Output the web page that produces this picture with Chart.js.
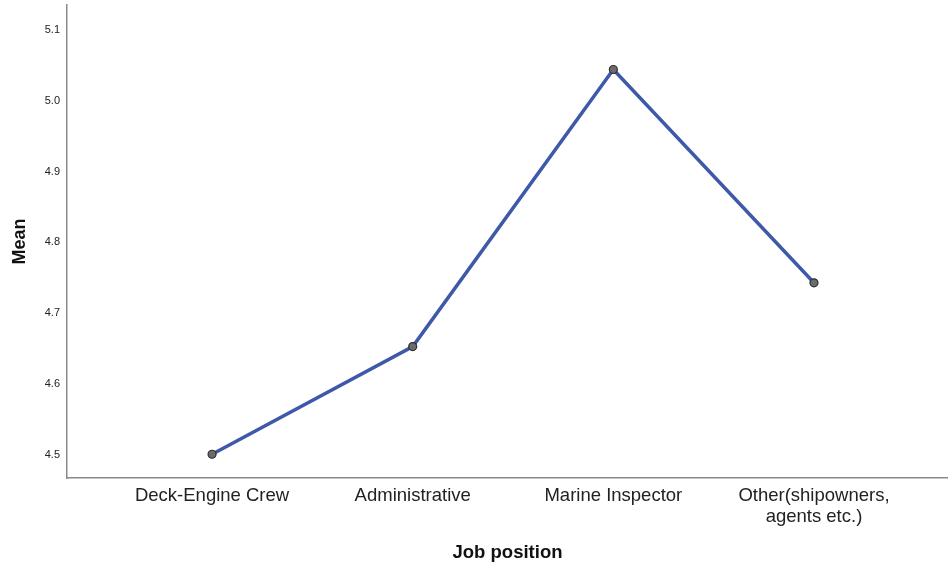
<!DOCTYPE html>
<html>
<head>
<meta charset="utf-8">
<style>
  html, body { margin: 0; padding: 0; background: #fff; }
  #wrap { width: 948px; height: 565px; }
</style>
</head>
<body>
<div id="wrap"><canvas id="meanChart"></canvas></div>

<script src="https://cdn.jsdelivr.net/npm/chart.js"></script>
<script>
  // categories and means
  const categories = ['Deck-Engine Crew', 'Administrative', 'Marine Inspector', ['Other(shipowners,', 'agents etc.)']];
  const positions = [1, 2, 3, 4];
  const means = [4.501, 4.653, 5.044, 4.743];
  const yTicks = [4.5, 4.6, 4.7, 4.8, 4.9, 5.0, 5.1];

  const points = positions.map(function (p, i) { return { x: p, y: means[i] }; });

  const ctx = document.getElementById('meanChart');
  const meanChart = new Chart(ctx, {
      type: 'line',
      data: {
          datasets: [{
              label: 'Mean',
              data: points,
              borderColor: '#3f59a9',
              borderWidth: 3.5,
              pointRadius: 4,
              pointBackgroundColor: '#6b6b6b',
              pointBorderColor: '#2f2f2f',
              pointBorderWidth: 1.2,
              tension: 0,
          }]
      },
      options: {
          responsive: true,
          maintainAspectRatio: false,
          animation: false,
          layout: {
              autoPadding: false,
              padding: { top: 5, right: 0, left: 0, bottom: 1 }
          },
          plugins: {
              legend: { display: false },
              tooltip: { enabled: false },
          },
          scales: {
              x: {
                  type: 'linear',
                  min: 0.277,
                  max: 4.668,
                  grid: { display: false, drawTicks: false },
                  border: { display: true, color: '#8a8a8a', width: 1.5 },
                  afterBuildTicks: function (scale) {
                      scale.ticks = positions.map(function (p) { return { value: p }; });
                  },
                  afterFit: function (scale) {
                      scale.height = 86;
                      scale.paddingLeft = 0;
                      scale.paddingRight = 0;
                  },
                  ticks: {
                      padding: 8,
                      maxRotation: 0,
                      autoSkip: false,
                      color: '#222',
                      font: { family: 'Liberation Sans', size: 18.5, lineHeight: 1.1 },
                      callback: function (value) {
                          const i = positions.indexOf(value);
                          return i >= 0 ? categories[i] : '';
                      }
                  },
                  title: {
                      display: true,
                      text: 'Job position',
                      color: '#111',
                      font: { family: 'Liberation Sans', size: 18.5, weight: 'bold' },
                      padding: { top: 2, bottom: 0 }
                  }
              },
              y: {
                  min: 4.4675,
                  max: 5.135,
                  grid: { display: false, drawTicks: false },
                  border: { display: true, color: '#8a8a8a', width: 1.5 },
                  afterBuildTicks: function (scale) {
                      scale.ticks = yTicks.map(function (v) { return { value: v }; });
                  },
                  afterFit: function (scale) {
                      scale.width = 67;
                      scale.paddingTop = 0;
                      scale.paddingBottom = 0;
                  },
                  ticks: {
                      padding: 7,
                      color: '#222',
                      font: { family: 'Liberation Sans', size: 11 },
                      callback: function (value) { return value.toFixed(1); }
                  },
                  title: {
                      display: true,
                      text: 'Mean',
                      color: '#111',
                      font: { family: 'Liberation Sans', size: 18, weight: 'bold' },
                      padding: { top: 9, bottom: 0 }
                  }
              }
          }
      }
  });
</script>
</body>
</html>
